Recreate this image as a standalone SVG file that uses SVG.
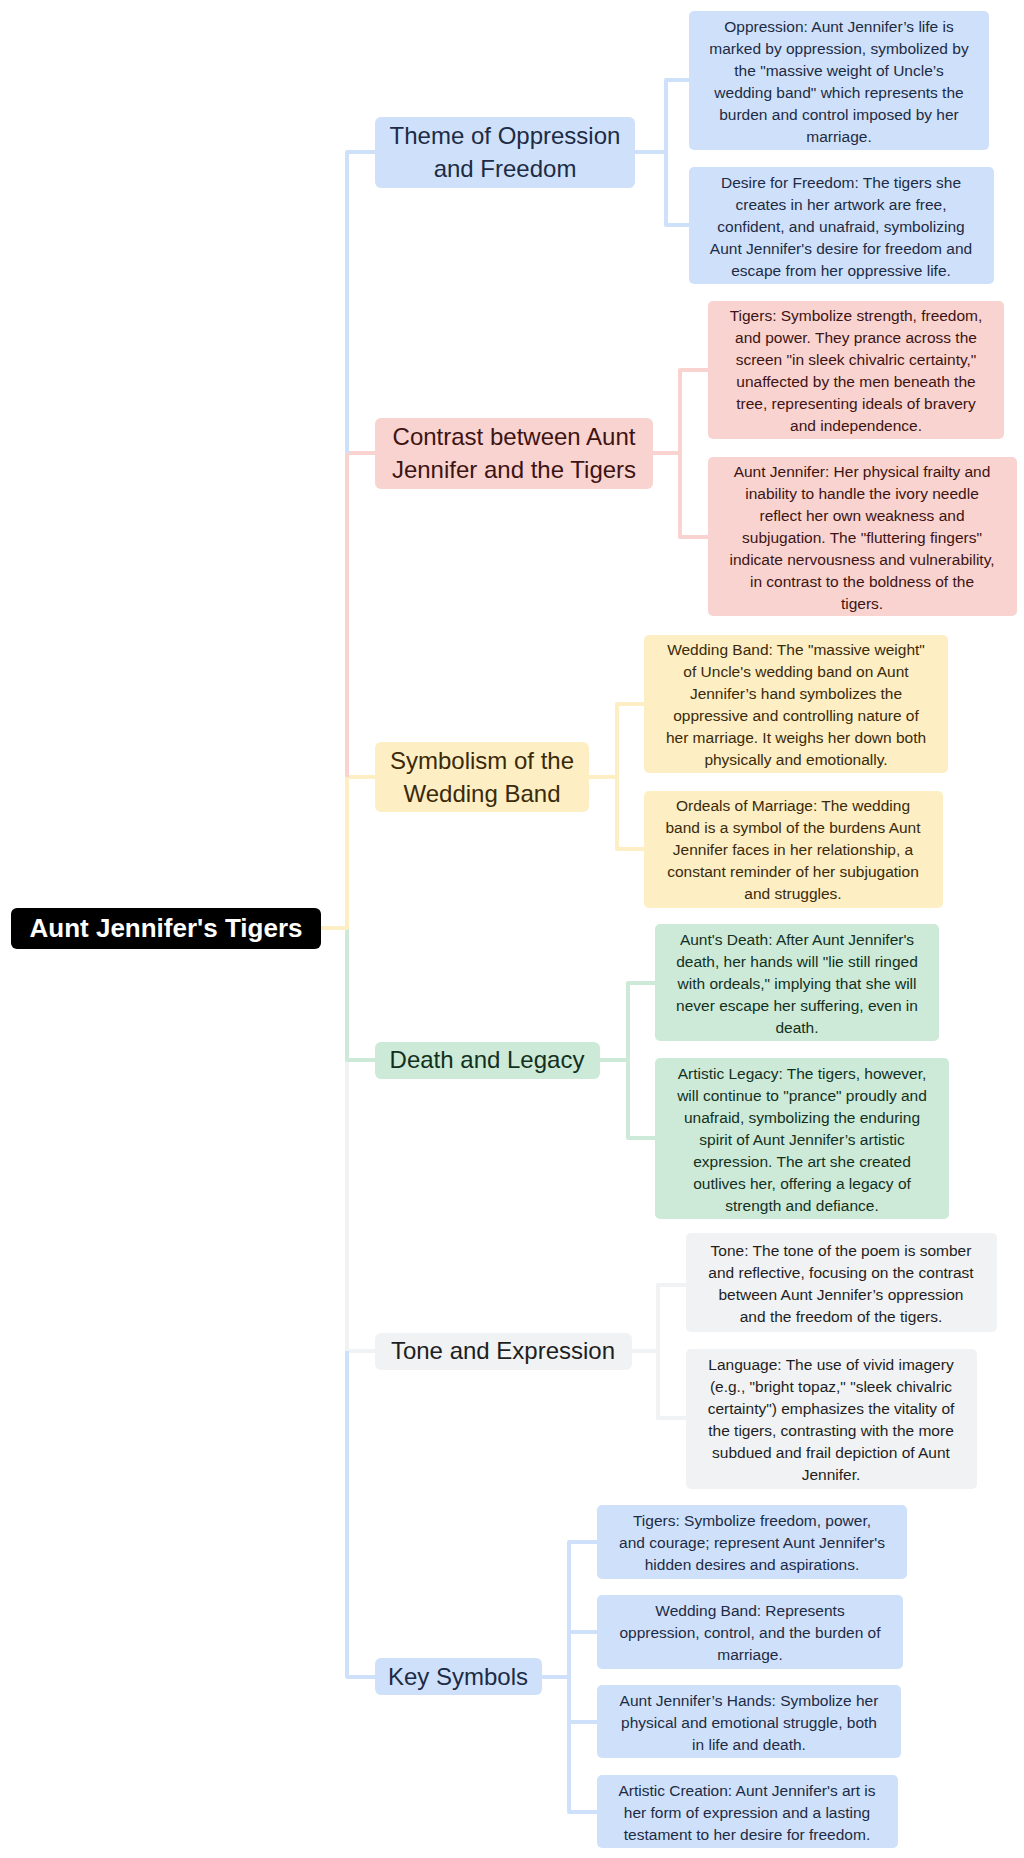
<svg xmlns="http://www.w3.org/2000/svg" width="1024" height="1858" viewBox="0 0 1024 1858">
<style>
text{font-family:"Liberation Sans",Arial,sans-serif;text-anchor:middle}
.l1{font-size:24px}.lf{font-size:15.5px}
.c path{fill:none;stroke-width:4;stroke-linejoin:round}
.b{fill:#cfe1fa}.bt{fill:#1d2b45}.bs{stroke:#cfe1fa}
.p{fill:#f9d3cf}.pt{fill:#3d1414}.ps{stroke:#f9d3cf}
.y{fill:#fdeec4}.yt{fill:#3a2a0a}.ys{stroke:#fdeec4}
.g{fill:#cdead8}.gt{fill:#13301e}.gs{stroke:#cdead8}
.k{fill:#f1f2f4}.kt{fill:#1e1e22}.ks{stroke:#f1f2f4}
</style>
<rect width="1024" height="1858" fill="#fff"/>
<g class="c" id="connectors">
<path class="ks" d="M321 928H347V1351H375"/>
<path class="bs" d="M347 1351V1677H375"/>
<path class="gs" d="M321 928H347V1060H375"/>
<path class="ys" d="M321 928H347V777H375"/>
<path class="ps" d="M347 777V453H375"/>
<path class="bs" d="M347 453V152H375"/>
<path class="bs" d="M635 152H666M689 80H666V225H689"/>
<path class="ps" d="M653 453H680M708 370H680V537H708"/>
<path class="ys" d="M589 777H617M644 704H617V849H644"/>
<path class="gs" d="M600 1060H628M655 983H628V1138H655"/>
<path class="ks" d="M632 1351H658M686 1285H658V1418H686"/>
<path class="bs" d="M542 1677H569M597 1542H569V1812H597M569 1632H597M569 1722H597"/>
</g>
<g id="root"><rect x="11" y="908" width="310" height="41" rx="6" fill="#000"/><text x="166" y="937" font-size="26" font-weight="bold" fill="#fff">Aunt Jennifer's Tigers</text></g>
<g id="theme"><rect class="b" x="375" y="117" width="260" height="71" rx="6"/><text class="l1 bt" x="505" y="144">Theme of Oppression</text><text class="l1 bt" x="505" y="177">and Freedom</text></g>
<g id="oppression"><rect class="b" x="689" y="11" width="300" height="139" rx="5"/><text class="lf bt"><tspan x="839" y="32">Oppression: Aunt Jennifer’s life is</tspan><tspan x="839" y="54">marked by oppression, symbolized by</tspan><tspan x="839" y="76">the "massive weight of Uncle’s</tspan><tspan x="839" y="98">wedding band" which represents the</tspan><tspan x="839" y="120">burden and control imposed by her</tspan><tspan x="839" y="142">marriage.</tspan></text></g>
<g id="desire"><rect class="b" x="689" y="167" width="305" height="117" rx="5"/><text class="lf bt"><tspan x="841" y="188">Desire for Freedom: The tigers she</tspan><tspan x="841" y="210">creates in her artwork are free,</tspan><tspan x="841" y="232">confident, and unafraid, symbolizing</tspan><tspan x="841" y="254">Aunt Jennifer's desire for freedom and</tspan><tspan x="841" y="276">escape from her oppressive life.</tspan></text></g>
<g id="contrast"><rect class="p" x="375" y="418" width="278" height="71" rx="6"/><text class="l1 pt" x="514" y="445">Contrast between Aunt</text><text class="l1 pt" x="514" y="478">Jennifer and the Tigers</text></g>
<g id="tigers"><rect class="p" x="708" y="301" width="296" height="138" rx="5"/><text class="lf pt"><tspan x="856" y="321">Tigers: Symbolize strength, freedom,</tspan><tspan x="856" y="343">and power. They prance across the</tspan><tspan x="856" y="365">screen "in sleek chivalric certainty,"</tspan><tspan x="856" y="387">unaffected by the men beneath the</tspan><tspan x="856" y="409">tree, representing ideals of bravery</tspan><tspan x="856" y="431">and independence.</tspan></text></g>
<g id="auntj"><rect class="p" x="708" y="457" width="309" height="159" rx="5"/><text class="lf pt"><tspan x="862" y="477">Aunt Jennifer: Her physical frailty and</tspan><tspan x="862" y="499">inability to handle the ivory needle</tspan><tspan x="862" y="521">reflect her own weakness and</tspan><tspan x="862" y="543">subjugation. The "fluttering fingers"</tspan><tspan x="862" y="565">indicate nervousness and vulnerability,</tspan><tspan x="862" y="587">in contrast to the boldness of the</tspan><tspan x="862" y="609">tigers.</tspan></text></g>
<g id="symbolism"><rect class="y" x="375" y="742" width="214" height="70" rx="6"/><text class="l1 yt" x="482" y="769">Symbolism of the</text><text class="l1 yt" x="482" y="802">Wedding Band</text></g>
<g id="wedding"><rect class="y" x="644" y="635" width="304" height="138" rx="5"/><text class="lf yt"><tspan x="796" y="655">Wedding Band: The "massive weight"</tspan><tspan x="796" y="677">of Uncle's wedding band on Aunt</tspan><tspan x="796" y="699">Jennifer’s hand symbolizes the</tspan><tspan x="796" y="721">oppressive and controlling nature of</tspan><tspan x="796" y="743">her marriage. It weighs her down both</tspan><tspan x="796" y="765">physically and emotionally.</tspan></text></g>
<g id="ordeals"><rect class="y" x="644" y="791" width="299" height="117" rx="5"/><text class="lf yt"><tspan x="793" y="811">Ordeals of Marriage: The wedding</tspan><tspan x="793" y="833">band is a symbol of the burdens Aunt</tspan><tspan x="793" y="855">Jennifer faces in her relationship, a</tspan><tspan x="793" y="877">constant reminder of her subjugation</tspan><tspan x="793" y="899">and struggles.</tspan></text></g>
<g id="death"><rect class="g" x="375" y="1042" width="225" height="37" rx="6"/><text class="l1 gt" x="487" y="1068">Death and Legacy</text></g>
<g id="auntdeath"><rect class="g" x="655" y="924" width="284" height="117" rx="5"/><text class="lf gt"><tspan x="797" y="945">Aunt's Death: After Aunt Jennifer's</tspan><tspan x="797" y="967">death, her hands will "lie still ringed</tspan><tspan x="797" y="989">with ordeals," implying that she will</tspan><tspan x="797" y="1011">never escape her suffering, even in</tspan><tspan x="797" y="1033">death.</tspan></text></g>
<g id="legacy"><rect class="g" x="655" y="1058" width="294" height="161" rx="5"/><text class="lf gt"><tspan x="802" y="1079">Artistic Legacy: The tigers, however,</tspan><tspan x="802" y="1101">will continue to "prance" proudly and</tspan><tspan x="802" y="1123">unafraid, symbolizing the enduring</tspan><tspan x="802" y="1145">spirit of Aunt Jennifer’s artistic</tspan><tspan x="802" y="1167">expression. The art she created</tspan><tspan x="802" y="1189">outlives her, offering a legacy of</tspan><tspan x="802" y="1211">strength and defiance.</tspan></text></g>
<g id="tone"><rect class="k" x="375" y="1333" width="257" height="37" rx="6"/><text class="l1 kt" x="503" y="1359">Tone and Expression</text></g>
<g id="toneleaf"><rect class="k" x="686" y="1233" width="311" height="99" rx="5"/><text class="lf kt"><tspan x="841" y="1256">Tone: The tone of the poem is somber</tspan><tspan x="841" y="1278">and reflective, focusing on the contrast</tspan><tspan x="841" y="1300">between Aunt Jennifer’s oppression</tspan><tspan x="841" y="1322">and the freedom of the tigers.</tspan></text></g>
<g id="language"><rect class="k" x="686" y="1349" width="291" height="140" rx="5"/><text class="lf kt"><tspan x="831" y="1370">Language: The use of vivid imagery</tspan><tspan x="831" y="1392">(e.g., "bright topaz," "sleek chivalric</tspan><tspan x="831" y="1414">certainty") emphasizes the vitality of</tspan><tspan x="831" y="1436">the tigers, contrasting with the more</tspan><tspan x="831" y="1458">subdued and frail depiction of Aunt</tspan><tspan x="831" y="1480">Jennifer.</tspan></text></g>
<g id="key"><rect class="b" x="375" y="1658" width="167" height="37" rx="6"/><text class="l1 bt" x="458" y="1685">Key Symbols</text></g>
<g id="k1"><rect class="b" x="597" y="1505" width="310" height="74" rx="5"/><text class="lf bt"><tspan x="752" y="1526">Tigers: Symbolize freedom, power,</tspan><tspan x="752" y="1548">and courage; represent Aunt Jennifer's</tspan><tspan x="752" y="1570">hidden desires and aspirations.</tspan></text></g>
<g id="k2"><rect class="b" x="597" y="1595" width="306" height="74" rx="5"/><text class="lf bt"><tspan x="750" y="1616">Wedding Band: Represents</tspan><tspan x="750" y="1638">oppression, control, and the burden of</tspan><tspan x="750" y="1660">marriage.</tspan></text></g>
<g id="k3"><rect class="b" x="597" y="1685" width="304" height="73" rx="5"/><text class="lf bt"><tspan x="749" y="1706">Aunt Jennifer’s Hands: Symbolize her</tspan><tspan x="749" y="1728">physical and emotional struggle, both</tspan><tspan x="749" y="1750">in life and death.</tspan></text></g>
<g id="k4"><rect class="b" x="597" y="1775" width="301" height="73" rx="5"/><text class="lf bt"><tspan x="747" y="1796">Artistic Creation: Aunt Jennifer's art is</tspan><tspan x="747" y="1818">her form of expression and a lasting</tspan><tspan x="747" y="1840">testament to her desire for freedom.</tspan></text></g>
</svg>
